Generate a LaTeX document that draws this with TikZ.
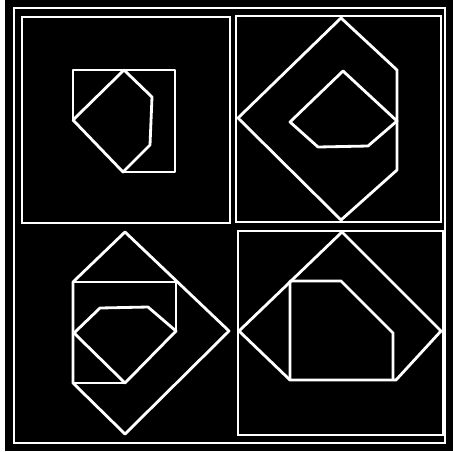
\documentclass[tikz,border=0pt]{standalone}
\usepackage{tikz}

\begin{document}
\begin{tikzpicture}[x=0.02cm, y=-0.02cm,
    frame/.style={draw=white, line width=1.2pt},
    outline/.style={draw=white, line width=1.6pt, line join=round}]
    \useasboundingbox (0,0) rectangle (453,451);
    % Ground
    \fill[black] (0,0) rectangle (453,451);
    \fill[white] (0,0) rectangle (5,451);
    % Frames
    \draw[frame] (14,8) rectangle (445,443);
    \draw[frame] (22,17) rectangle (230,223);
    \draw[frame] (236,16) rectangle (441,222);
    \draw[frame] (238,231) rectangle (443,435);
    % Top left
    \draw[outline] (73,120) -- (73,70) -- (175,70) -- (175,172) -- (123,172);
    \draw[outline] (124,70) -- (152,97) -- (150,145) -- (123,172) -- (73,120) -- cycle;
    % Top right
    \draw[outline] (341,18) -- (397,70) -- (397,170) -- (341,220) -- (238,118) -- cycle;
    \draw[outline] (343,71) -- (397,121) -- (368,146) -- (318,147) -- (290,122) -- cycle;
    % Bottom left
    \draw[outline] (125,232) -- (229,331) -- (125,434) -- (73,383) -- (73,282) -- cycle;
    \draw[outline] (73,282) -- (176,282) -- (176,331);
    \draw[outline] (73,383) -- (125,383);
    \draw[outline] (74,333) -- (100,308) -- (148,307) -- (176,331) -- (125,383) -- cycle;
    % Bottom right
    \draw[outline] (342,232) -- (441,331) -- (396,380) -- (290,380) -- (239,331) -- cycle;
    \draw[outline] (290,380) -- (290,281) -- (341,281) -- (393,333) -- (393,380);
\end{tikzpicture}
\end{document}
